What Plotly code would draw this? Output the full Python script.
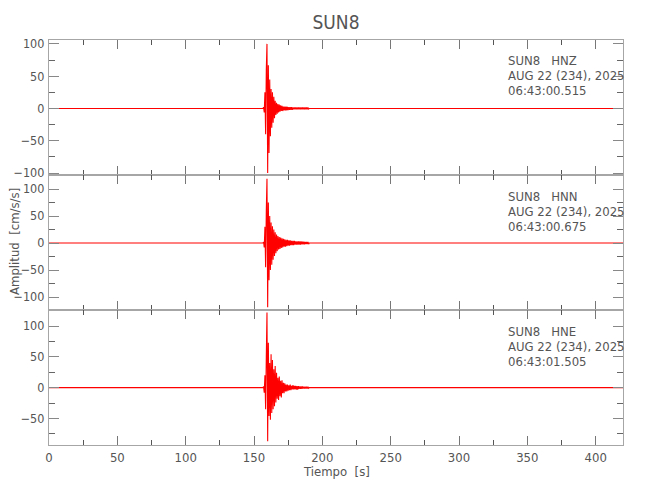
import plotly.graph_objects as go
from plotly.subplots import make_subplots

# ---------------- data ----------------
station = "SUN8"
channels = ["HNZ", "HNN", "HNE"]
date_label = "AUG 22 (234), 2025"
start_times = ["06:43:00.515", "06:43:00.675", "06:43:01.505"]

# quiet background (before and after the event)
quiet_t = [0.0, 60.0, 120.0, 156.5]
quiet_hnz = [0.0, 0.0, 0.0, 0.0]
quiet_hnn = [0.0, 0.0, 0.0, 0.0]
quiet_hne = [0.0, 0.0, 0.0, 0.0]
tail_t = [190.5, 250.0, 320.0, 420.0]
tail_hnz = [0.0, 0.0, 0.0, 0.0]
tail_hnn = [0.0, 0.0, 0.0, 0.0]
tail_hne = [0.0, 0.0, 0.0, 0.0]

# event window, peak values (cm/s/s)
burst_t = [157.0, 157.5, 158.0, 158.5, 159.0, 159.5, 160.0, 160.5, 161.0, 161.5,
           162.0, 162.5, 163.0, 163.5, 164.0, 164.5, 165.0, 165.5, 166.0, 166.5,
           167.0, 167.5, 168.0, 168.5, 169.0, 169.5, 170.0, 170.5, 171.0, 171.5,
           172.0, 172.5, 173.0, 173.5, 174.0, 174.5, 175.0, 175.5, 176.0, 176.5,
           177.0, 177.5, 178.0, 178.5, 179.0, 179.5, 180.0, 180.5, 181.0, 181.5,
           182.0, 182.5, 183.0, 183.5, 184.0, 184.5, 185.0, 185.5, 186.0, 186.5,
           187.0, 187.5, 188.0, 188.5, 189.0, 189.5, 190.0]
burst_hnz = [2, -6, 25, -40, 60, 100, -100, 67, -69, 45,
             -43, 30, -30, 25, -22, 18, -15, 12, -10, 9,
             -8, 7, -6, 6, -5, 5, -4, 4, -4, 3,
             -3, 3, -3, 3, -3, 2.5, -2.5, 2, -2, 2,
             -2, 2, -2, 1.5, -1.5, 1.5, -1.5, 1.5, -1.5, 1.5,
             -1.5, 1.5, -1.5, 1.5, -1.5, 1.5, -1.5, 1.5, -1.5, 1.5,
             -1.5, 1.5, -1.5, 1.5, -1.5, 1.5, -1]
burst_hnn = [2, -8, 30, -45, 60, 119, -119, 75, -69, 50,
             -50, 38, -40, 31, -31, 25, -24, 20, -19, 16,
             -15, 13, -12, 11, -11, 10, -9, 9, -8, 8,
             -7, 7, -7, 6, -6, 6, -5, 5, -5, 5,
             -4, 4, -4, 4, -4, 4, -3, 3, -3, 3,
             -3, 3, -3, 3, -3, 3, -2.5, 2.5, -2.5, 2.5,
             -2.5, 2, -2, 2, -2, 2, -2]
burst_hne = [2, -8, 20, -35, 50, 122, -87, 73, -46, 40,
             -52, 54, -41, 45, -35, 30, -30, 35, -24, 24,
             -18, 16, -20, 18, -14, 11, -16, 12, -9, 8,
             -9, 7, -6, 5, -6, 5, -5, 4, -4, 5,
             -4, 3, -3, 4, -3, 3, -3, 3, -3, 2.5,
             -3, 2.5, -2, 2, -2, 2, -2, 2, -1.5, 1.5,
             -1.5, 1.5, -1.5, 1.5, -1.5, 1.5, -1]

y_ranges = [[-103, 106], [-124, 126], [-93, 126]]
y_ticks = [[-100, -50, 0, 50, 100], [-100, -50, 0, 50, 100], [-50, 0, 50, 100]]
x_ticks = [0, 50, 100, 150, 200, 250, 300, 350, 400]

# ---------------- figure ----------------
FONT = "DejaVu Sans Condensed, DejaVu Sans, sans-serif"
TXT = "#555555"
AX = "#a6a6a6"
FS = 13
OFF = 8  # page body margin

fig = make_subplots(rows=3, cols=1, shared_xaxes=True, vertical_spacing=0.0)

quiet = [quiet_hnz, quiet_hnn, quiet_hne]
tails = [tail_hnz, tail_hnn, tail_hne]
bursts = [burst_hnz, burst_hnn, burst_hne]
for i in range(3):
    xs = quiet_t + burst_t + tail_t
    ys = quiet[i] + bursts[i] + tails[i]
    fig.add_trace(go.Scatter(x=xs, y=ys, mode="lines",
                             line=dict(color="#ff0000", width=1.1),
                             showlegend=False, hoverinfo="skip"),
                  row=i + 1, col=1)

for i in range(3):
    r = i + 1
    fig.update_xaxes(range=[0, 420], tickvals=x_ticks,
                     ticks="inside", ticklen=9, tickwidth=1, tickcolor="#777",
                     minor=dict(ticks="inside", dtick=25, tick0=0, ticklen=5,
                                tickcolor="#555", tickwidth=1),
                     showline=True, linecolor=AX, linewidth=1.2, mirror="allticks",
                     showgrid=False, zeroline=False, automargin=False,
                     showticklabels=(r == 3),
                     tickfont=dict(family=FONT, size=FS, color=TXT),
                     row=r, col=1)
    fig.update_yaxes(range=y_ranges[i], tickvals=y_ticks[i],
                     ticks="inside", ticklen=10, tickwidth=1, tickcolor="#888",
                     minor=dict(ticks="inside", dtick=25, tick0=0, ticklen=6,
                                tickcolor="#666", tickwidth=1),
                     showline=True, linecolor=AX, linewidth=1.2, mirror="allticks",
                     showgrid=False, zeroline=False, automargin=False,
                     tickfont=dict(family=FONT, size=12.5, color=TXT),
                     ticklabelstandoff=1,
                     row=r, col=1)

TOP, H = 40, 405
def py(ypx):
    return 1 - (ypx - TOP) / H

line_rows = [[61, 75.5, 90], [196, 211, 226], [331, 346, 361]]
for i in range(3):
    texts = [station + "\u00a0\u00a0\u00a0" + channels[i], date_label, start_times[i]]
    for t, ypx in zip(texts, line_rows[i]):
        fig.add_annotation(x=(506 - 49) / 574, y=py(ypx), xref="paper", yref="paper",
                           text=t, showarrow=False, xanchor="left", yanchor="middle",
                           font=dict(family=FONT, size=FS, color=TXT))

fig.add_annotation(x=(14 - 49) / 574, y=py(242), xref="paper", yref="paper",
                   text="Amplitud\u00a0\u00a0[cm/s/s]", textangle=-90, showarrow=False,
                   xanchor="center", yanchor="middle",
                   font=dict(family=FONT, size=FS, color=TXT))
fig.add_annotation(x=0.5, y=py(471), xref="paper", yref="paper",
                   text="Tiempo\u00a0\u00a0[s]", showarrow=False,
                   xanchor="center", yanchor="middle",
                   font=dict(family=FONT, size=FS, color=TXT))

W, Hh = 650 - OFF, 500 - OFF
fig.update_layout(
    width=W, height=Hh,
    margin=dict(l=49 - OFF, r=27, t=40 - OFF, b=55, autoexpand=False),
    paper_bgcolor="white", plot_bgcolor="white",
    title=dict(text=station, x=(336 - OFF) / W, xanchor="center", y=1 - (22 - OFF) / Hh,
               yanchor="middle", font=dict(family=FONT, size=19, color=TXT)),
)

fig.write_html("out.html")
